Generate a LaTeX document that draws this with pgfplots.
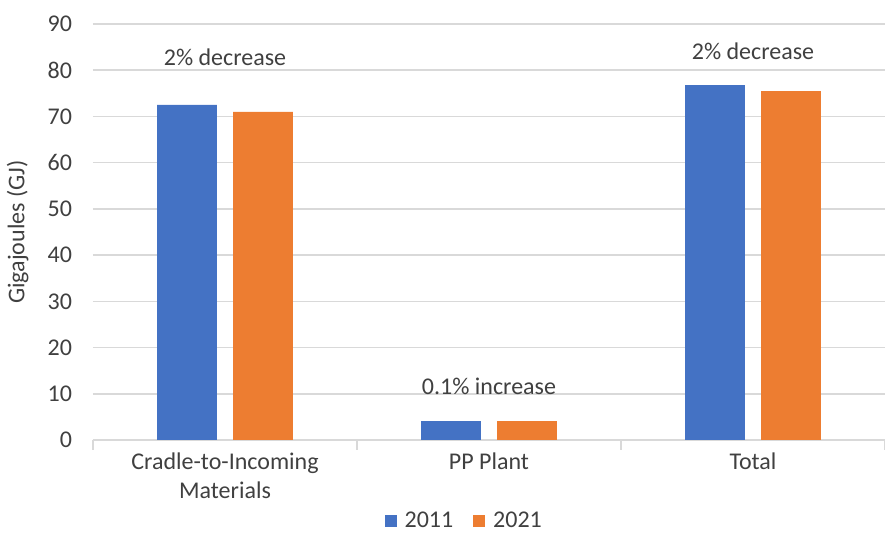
\documentclass[border=0pt]{standalone}
\usepackage{fontspec}
\setmainfont{Carlito}
\usepackage{pgfplots}
\pgfplotsset{compat=1.18}
\definecolor{xblue}{HTML}{4472C4}
\definecolor{xorange}{HTML}{ED7D31}
\definecolor{xgrid}{HTML}{D9D9D9}
\definecolor{xtext}{HTML}{404040}
\begin{document}
\begin{tikzpicture}[font=\fontsize{12}{14.5}\selectfont]
\useasboundingbox (-46.5pt,-46.5pt) rectangle (396pt,220pt);
\begin{axis}[
  scale only axis,
  width=396pt, height=208pt,
  xmin=-0.5, xmax=2.5, ymin=0, ymax=90,
  ytick={0,10,...,90},
  xtick={0,1,2},
  xticklabels={{Cradle-to-Incoming\\Materials},{PP Plant},{Total}},
  xticklabel style={align=center, text=xtext, yshift=-3pt},
  yticklabel style={text=xtext, xshift=-7pt},
  major tick length=0pt,
  extra x ticks={-0.5,0.5,1.5,2.5},
  extra x tick labels={},
  extra x tick style={major tick length=5pt, tick style={xgrid, line width=0.75pt}, tick pos=left, grid=none},
  ymajorgrids, grid style={xgrid, line width=0.75pt},
  axis x line*=bottom,
  axis y line*=left,
  y axis line style={draw=none},
  x axis line style={xgrid, line width=0.75pt, -},
  ylabel={Gigajoules (GJ)},
  ylabel style={text=xtext, at={(axis description cs:-0.095,0.5)}, anchor=center},
  ybar, bar width=0.227,
  legend style={at={(0.47,-0.195)}, anchor=center, legend columns=2, draw=none, text=xtext, /tikz/every even column/.append style={column sep=8pt}},
  legend image code/.code={\fill[#1] (0pt,-3pt) rectangle (6pt,3pt);},
  legend cell align=left,
  clip=false,
  /pgf/number format/assume math mode=true,
]
\addplot[fill=xblue, draw=none, bar shift=-0.144] coordinates {(0,72.5) (1,4.1) (2,76.8)};
\addplot[fill=xorange, draw=none, bar shift=0.144] coordinates {(0,71.0) (1,4.1) (2,75.5)};
\legend{\,2011,\,2021}
\node[text=xtext] at (axis cs:0,82.9) {2\% decrease};
\node[text=xtext] at (axis cs:1,11.7) {0.1\% increase};
\node[text=xtext] at (axis cs:2,84.2) {2\% decrease};
\end{axis}
\end{tikzpicture}
\end{document}
